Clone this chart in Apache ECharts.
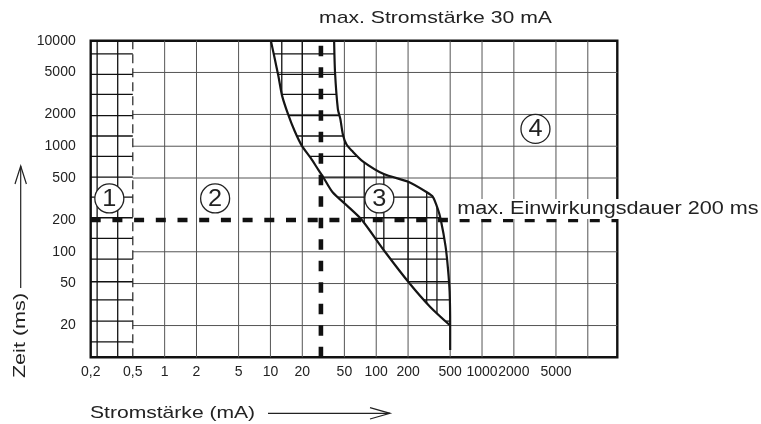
<!DOCTYPE html>
<html><head><meta charset="utf-8">
<script src="https://cdn.jsdelivr.net/npm/echarts@6/dist/echarts.min.js"></script>
<style>html,body{margin:0;padding:0;background:#fff}#c{width:761px;height:424px}</style>
</head><body><div id="c"></div>
<script>
// ---- data ----
const xMin = 0.2, xMax = 19000, yMin = 10, yMax = 10000;
const xTickValues = [0.2, 0.5, 1, 2, 5, 10, 20, 50, 100, 200, 500, 1000, 2000, 5000];
const xTickLabels = ['0,2', '0,5', '1', '2', '5', '10', '20', '50', '100', '200', '500', '1000', '2000', '5000'];
const yTickValues = [20, 50, 100, 200, 500, 1000, 2000, 5000, 10000];
const yTickLabels = ['20', '50', '100', '200', '500', '1000', '2000', '5000', '10000'];
const xGridValues = [1, 2, 5, 10, 20, 50, 100, 200, 500, 1000, 2000, 5000, 10000];
const yGridValues = [20, 50, 100, 500, 1000, 2000, 5000];
const hatchY = [14, 22, 35, 52, 85, 134, 210, 330, 510, 800, 1250, 1950, 3100, 4800, 7500];
const zone1HatchX = [0.23, 0.36];
const zone3HatchX = [12.8, 20, 50, 77, 118, 200, 300, 375];
const zoneBoundary = 0.5;      // mA, Bereich 1 / 2
const limitCurrent = 30;       // mA
const limitTime = 200;         // ms
// Grenzkurve Bereich 2/3 (mA, ms)
const curveLeft = [[10.1,10000],[11.0,6700],[11.9,4600],[12.9,3000],[14.7,2000],[16.9,1400],[19.7,1020],[24.1,770],[28.3,600],[31.9,500],[38.7,366],[54.8,265],[73.2,200],[121,100],[207,50],[324,30],[500,20]];
// Grenzkurve Bereich 3/4 (mA, ms)
const curveRight = [[40,10000],[40.8,5000],[43.4,2250],[45.8,1810],[48.5,1280],[52.4,1040],[59,905],[74.6,720],[118,545],[201,460],[301,366],[344,330],[381,256],[408,200],[452,113],[476,70],[494,42],[500,20],[500,11.7]];
const zoneNames = ['1', '2', '3', '4'];
const zoneX = [0.3, 3, 107, 3200];
const zoneY = [320, 320, 320, 1460];

const FONT = '"Liberation Sans", Arial, Helvetica, sans-serif';
const chart = echarts.init(document.getElementById('c'), null, {renderer: 'canvas'});

function segRender(color, width, dash) {
  return function (params, api) {
    const a = api.coord([api.value(0), api.value(1)]);
    const b = api.coord([api.value(2), api.value(3)]);
    const st = {stroke: color, lineWidth: width};
    if (dash) st.lineDash = dash;
    return {type: 'line', shape: {x1: a[0], y1: a[1], x2: b[0], y2: b[1]}, style: st};
  };
}

const vGridSegs = xGridValues.map(v => [v, yMin, v, yMax]);
const hGridSegs = yGridValues.map(v => [zoneBoundary, v, xMax, v]);
const zone1Segs = hatchY.map(v => [xMin, v, zoneBoundary, v]).concat(zone1HatchX.map(v => [v, yMin, v, yMax]));

const option = {
  animation: false,
  grid: {left: 90.7, top: 40.7, width: 526.6, height: 316.6, show: true, borderColor: '#111', borderWidth: 2.4, backgroundColor: 'transparent'},
  xAxis: {type: 'log', logBase: 10, min: xMin, max: xMax, axisLine: {show: false}, axisTick: {show: false}, axisLabel: {show: false}, splitLine: {show: false}},
  yAxis: {type: 'log', logBase: 10, min: yMin, max: yMax, axisLine: {show: false}, axisTick: {show: false}, axisLabel: {show: false}, splitLine: {show: false}},
  series: [
    {type: 'custom', z: 1, silent: true, data: vGridSegs, renderItem: segRender('#555', 1)},
    {type: 'custom', z: 1, silent: true, data: hGridSegs, renderItem: segRender('#555', 1)},
    {type: 'custom', z: 2, silent: true, data: zone1Segs, renderItem: segRender('#111', 1.3)},
    {type: 'custom', z: 2, silent: true, data: [[xMin, yMin]], renderItem: function (params, api) {
      const poly = curveLeft.map(p => api.coord(p)).concat(curveRight.filter(p => p[1] >= 20).slice().reverse().map(p => api.coord(p)));
      const children = [];
      hatchY.forEach(v => {
        const a = api.coord([xMin, v]), b = api.coord([xMax, v]);
        children.push({type: 'line', shape: {x1: a[0], y1: a[1], x2: b[0], y2: b[1]}, style: {stroke: '#111', lineWidth: 1.3}});
      });
      zone3HatchX.forEach(v => {
        const a = api.coord([v, yMin]), b = api.coord([v, yMax]);
        children.push({type: 'line', shape: {x1: a[0], y1: a[1], x2: b[0], y2: b[1]}, style: {stroke: '#111', lineWidth: 1.3}});
      });
      return {type: 'group', children: children, clipPath: {type: 'polygon', shape: {points: poly}}};
    }},
    {type: 'custom', z: 3, silent: true, data: zoneX.map((v, i) => [v, zoneY[i]]), renderItem: function (params, api) {
      const p = api.coord([api.value(0), api.value(1)]);
      return {type: 'group', children: [
        {type: 'circle', shape: {cx: p[0], cy: p[1], r: 14.5}, style: {fill: '#fff', stroke: '#222', lineWidth: 1.3}},
        {type: 'text', x: p[0], y: p[1] + 1, scaleX: 1.1, style: {text: zoneNames[params.dataIndex], font: '23px ' + FONT, fill: '#222', textAlign: 'center', textVerticalAlign: 'middle', align: 'center', verticalAlign: 'middle'}}
      ]};
    }},
    {type: 'line', z: 4, silent: true, data: curveLeft, showSymbol: false, symbol: 'none', smooth: 0.25, lineStyle: {color: '#151515', width: 2.2}},
    {type: 'line', z: 4, silent: true, data: curveRight, showSymbol: false, symbol: 'none', smooth: 0.25, lineStyle: {color: '#151515', width: 2.2}},
    {type: 'line', z: 4, silent: true, data: [[zoneBoundary, yMin], [zoneBoundary, yMax]], showSymbol: false, symbol: 'none', lineStyle: {color: '#222', width: 1.2, type: [9, 5]}},
    {type: 'line', z: 5, silent: true, data: [[limitCurrent, yMin], [limitCurrent, yMax]], showSymbol: false, symbol: 'none', lineStyle: {color: '#111', width: 4.6, type: [10.5, 11], cap: 'butt'}},
    {type: 'line', z: 5, silent: true, data: [[xMin, limitTime], [xMax, limitTime]], showSymbol: false, symbol: 'none', lineStyle: {color: '#111', width: 4.6, type: [10, 11.7], cap: 'butt'}},
    {type: 'custom', z: 5, silent: true, data: xTickValues.map(v => [v, yMin]), renderItem: function (params, api) {
      const p = api.coord([api.value(0), api.value(1)]);
      return {type: 'text', x: p[0], y: p[1] + 14.5, style: {text: xTickLabels[params.dataIndex], font: '14px ' + FONT, fill: '#222', textAlign: 'center', textVerticalAlign: 'middle', align: 'center', verticalAlign: 'middle'}};
    }},
    {type: 'custom', z: 5, silent: true, data: yTickValues.map(v => [xMin, v]), renderItem: function (params, api) {
      const p = api.coord([api.value(0), api.value(1)]);
      return {type: 'text', x: p[0] - 15, y: p[1], style: {text: yTickLabels[params.dataIndex], font: '14px ' + FONT, fill: '#222', textAlign: 'right', textVerticalAlign: 'middle', align: 'right', verticalAlign: 'middle'}};
    }}
  ],
  graphic: [
    {type: 'text', z: 100, x: 435.5, y: 18.8, scaleX: 1.245, style: {text: 'max. Stromstärke 30 mA', font: '17px ' + FONT, fill: '#222', textAlign: 'center', textVerticalAlign: 'middle', align: 'center', verticalAlign: 'middle'}},
    {type: 'text', z: 100, x: 456, y: 209, scaleX: 1.2, style: {text: 'max. Einwirkungsdauer 200 ms', font: '18px ' + FONT, fill: '#222', textAlign: 'left', textVerticalAlign: 'middle', align: 'left', verticalAlign: 'middle', backgroundColor: '#fff', padding: [2, 1, 0, 1]}},
    {type: 'text', z: 100, x: 90, y: 413.8, scaleX: 1.24, style: {text: 'Stromstärke (mA)', font: '17px ' + FONT, fill: '#222', textAlign: 'left', textVerticalAlign: 'middle', align: 'left', verticalAlign: 'middle'}},
    {type: 'polyline', z: 100, shape: {points: [[268, 413.3], [390, 413.3]]}, style: {stroke: '#222', lineWidth: 1.2, fill: null}},
    {type: 'polyline', z: 100, shape: {points: [[370, 407.7], [390, 413.3], [370, 419]]}, style: {stroke: '#222', lineWidth: 1.2, fill: null}},
    {type: 'text', z: 100, x: 20.5, y: 335.5, rotation: Math.PI / 2, scaleX: 1.27, style: {text: 'Zeit (ms)', font: '17px ' + FONT, fill: '#222', textAlign: 'center', textVerticalAlign: 'middle', align: 'center', verticalAlign: 'middle'}},
    {type: 'polyline', z: 100, shape: {points: [[20.7, 288], [20.7, 166]]}, style: {stroke: '#222', lineWidth: 1.2, fill: null}},
    {type: 'polyline', z: 100, shape: {points: [[15, 184], [20.7, 166], [26.4, 184]]}, style: {stroke: '#222', lineWidth: 1.2, fill: null}}
  ]
};
chart.setOption(option);
</script>
</body></html>
